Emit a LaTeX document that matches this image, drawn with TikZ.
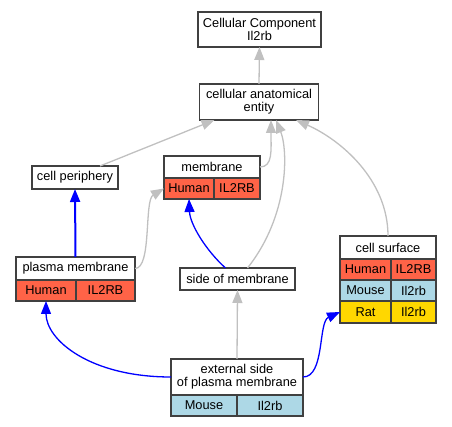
\documentclass[tikz,border=0pt]{standalone}
\usepackage{fontspec}
\setmainfont{Liberation Sans}
\usetikzlibrary{positioning, arrows.meta}
\definecolor{silver}{HTML}{C0C0C0}
\definecolor{tomato}{HTML}{FF6347}
\definecolor{lightblue}{HTML}{ADD8E6}
\definecolor{gold}{HTML}{FFD700}
\tikzset{
>={Triangle[length=13pt,width=10pt]}, % filled arrow heads
every node/.style={font=\fontsize{12.8}{13.3}\selectfont}, % text size of all nodes
term/.style={draw=black!75, line width=1.5pt, fill=white, align=center, inner sep=1pt, outer sep=0pt}, % header box of a term
species/.style={term, minimum height=21pt}, % one cell of the species table
isa/.style={->, draw=silver, line width=1.3pt}, % grey edges between terms
homol/.style={->, draw=blue, line width=1.3pt}, % blue edges
}

\begin{document}
\begin{tikzpicture}[x=1pt, y=-1pt]
\useasboundingbox (0,0) rectangle (452,427);

\node[term, minimum width=123pt, minimum height=35pt] (ccomp) at (259.5,29.5) {Cellular Component\\Il2rb};
\node[term, minimum width=119pt, minimum height=36pt] (cae) at (259,102) {cellular anatomical\\entity};
\node[term, minimum width=86pt, minimum height=23pt] (cperi) at (75,177.5) {cell periphery};

\node[term, minimum width=96pt, minimum height=22pt] (mem) at (212,167) {membrane};
\node[species, fill=tomato, minimum width=50pt, below right=0pt and 0pt of mem.south west] (memHs) {Human};
\node[species, fill=tomato, minimum width=46pt, right=0pt of memHs] (memHg) {IL2RB};

\node[term, minimum width=119pt, minimum height=23pt] (pm) at (75.5,268.5) {plasma membrane};
\node[species, fill=tomato, minimum width=60pt, below right=0pt and 0pt of pm.south west] (pmHs) {Human};
\node[species, fill=tomato, minimum width=59pt, right=0pt of pmHs] (pmHg) {IL2RB};

\node[term, minimum width=115pt, minimum height=22pt] (som) at (237.5,279) {side of membrane};

\node[term, minimum width=96pt, minimum height=23pt] (cs) at (388,247.5) {cell surface};
\node[species, fill=tomato, minimum width=51pt, below right=0pt and 0pt of cs.south west] (csHs) {Human};
\node[species, fill=tomato, minimum width=45pt, right=0pt of csHs] (csHg) {IL2RB};
\node[species, fill=lightblue, minimum width=51pt, below=0pt of csHs] (csMm) {Mouse};
\node[species, fill=lightblue, minimum width=45pt, right=0pt of csMm] (csMg) {Il2rb};
\node[species, fill=gold, minimum width=51pt, minimum height=22pt, below=0pt of csMm] (csRn) {Rat};
\node[species, fill=gold, minimum width=45pt, minimum height=22pt, right=0pt of csRn] (csRg) {Il2rb};

\node[term, minimum width=132pt, minimum height=36pt] (ext) at (237,377) {external side\\of plasma membrane};
\node[species, fill=lightblue, minimum width=66pt, below right=0pt and 0pt of ext.south west] (extMm) {Mouse};
\node[species, fill=lightblue, minimum width=66pt, right=0pt of extMm] (extMg) {Il2rb};

% is_a edges
\draw[isa] (cae.north) -- (ccomp.south);
\draw[isa] ([xshift=-18pt]cperi.north east) -- ([xshift=15pt]cae.south west);
\draw[isa] (mem.east) .. controls +(13,0) and +(0,30) .. ([xshift=12pt]cae.south);
\draw[isa] ([xshift=10pt]som.north) .. controls +(42,-53) and +(12,30) .. ([xshift=17pt]cae.south);
\draw[isa] (cs.north) .. controls +(0,-56) and +(45,20) .. ([xshift=37pt]cae.south);
\draw[isa] (pm.east) .. controls +(17,0) and +(-20,12) .. (memHs.west);
\draw[isa] (ext.north) -- (som.south);

% blue edges
\draw[homol, line width=2pt] (pm.north) -- (cperi.south);
\draw[homol] ([xshift=-12pt]som.north) .. controls +(-20,-18) and +(1,25) .. (memHs.south);
\draw[homol] (ext.west) .. controls +(-81,0) and +(0,39) .. (pmHs.south);
\draw[homol] (ext.east) .. controls +(22,0) and +(-22,10) .. (csRn.west);

\end{tikzpicture}
\end{document}
